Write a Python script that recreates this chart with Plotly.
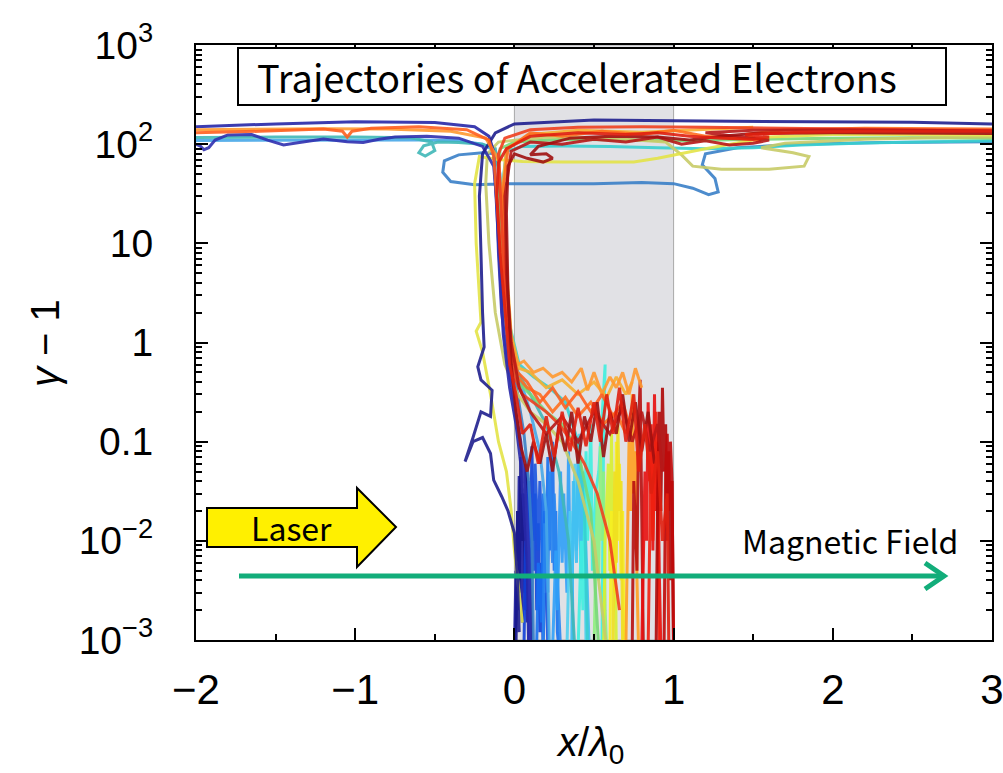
import plotly.graph_objects as go

# ---- axis ticks -------------------------------------------------------------
X_TICKS = [-2, -1, 0, 1, 2, 3]
X_TICK_TEXT = ["−2", "−1", "0", "1", "2", "3"]
X_MINOR = [-1.5, -0.5, 0.5, 1.5, 2.5]
Y_TICKS = [1e-3, 1e-2, 1e-1, 1, 10, 100, 1000]
Y_TICK_TEXT = ["10<sup>−3</sup>", "10<sup>−2</sup>", "0.1", "1", "10",
               "10<sup>2</sup>", "10<sup>3</sup>"]
Y_MINOR = [m * 10.0 ** e for e in range(-3, 3) for m in range(2, 10)]
TARGET_SLAB = [0.0, 1.0]   # target extent in x/lambda0

# ---- electrons that stay trapped inside the target --------------------------
S1_X = [0.00, 0.01, 0.01, 0.02, 0.02, 0.03, 0.03, 0.04, 0.05, 0.05, 0.06, 0.07, 0.07, 0.08, 0.09, 0.10]
S1_Y = [0.0008, 0.005, 0.0012, 0.02, 0.002, 0.045, 0.004, 0.012, 0.0015, 0.03, 0.003, 0.06, 0.005, 0.0015, 0.008, 0.0008]
S1B_X = [0.01, 0.02, 0.03, 0.04, 0.05, 0.06, 0.07, 0.08, 0.09, 0.10, 0.11]
S1B_Y = [0.0008, 0.02, 0.003, 0.07, 0.01, 0.03, 0.002, 0.05, 0.006, 0.015, 0.0008]
S2_X = [0.06, 0.07, 0.08, 0.09, 0.10, 0.11, 0.12, 0.13, 0.14, 0.15, 0.16, 0.17, 0.18, 0.19]
S2_Y = [0.0008, 0.01, 0.002, 0.04, 0.006, 0.09, 0.01, 0.03, 0.002, 0.015, 0.0012, 0.006, 0.0009, 0.003]
S2B_X = [0.09, 0.10, 0.12, 0.13, 0.15, 0.16, 0.18, 0.19, 0.21]
S2B_Y = [0.0008, 0.03, 0.005, 0.06, 0.008, 0.04, 0.003, 0.02, 0.0008]
S3_X = [0.14, 0.15, 0.17, 0.18, 0.20, 0.21, 0.22, 0.24, 0.25, 0.26, 0.27, 0.28]
S3_Y = [0.0009, 0.006, 0.0015, 0.03, 0.004, 0.07, 0.008, 0.1, 0.005, 0.02, 0.0012, 0.0008]
S3B_X = [0.18, 0.19, 0.21, 0.22, 0.24, 0.25, 0.27, 0.29]
S3B_Y = [0.0008, 0.015, 0.003, 0.05, 0.006, 0.03, 0.004, 0.0008]
S4_X = [0.24, 0.26, 0.27, 0.29, 0.30, 0.31, 0.33, 0.34, 0.35, 0.36, 0.37]
S4_Y = [0.0008, 0.008, 0.002, 0.05, 0.006, 0.03, 0.003, 0.08, 0.004, 0.01, 0.0008]
S5_X = [0.33, 0.35, 0.36, 0.38, 0.39, 0.41, 0.42, 0.44, 0.45]
S5_Y = [0.0008, 0.02, 0.003, 0.06, 0.008, 0.12, 0.006, 0.03, 0.0008]
S5B_X = [0.36, 0.37, 0.39, 0.40, 0.42, 0.43, 0.45, 0.47]
S5B_Y = [0.0008, 0.04, 0.006, 0.09, 0.004, 0.05, 0.008, 0.0008]
S6_X = [0.40, 0.42, 0.43, 0.45, 0.46, 0.48, 0.49, 0.51, 0.53, 0.55, 0.57, 0.56, 0.55]
S6_Y = [0.0008, 0.01, 0.002, 0.08, 0.01, 0.15, 0.005, 0.03, 0.05, 0.2, 0.6, 0.1, 0.0008]
S7_X = [0.50, 0.52, 0.53, 0.54, 0.55, 0.56, 0.57, 0.58]
S7_Y = [0.0008, 0.03, 0.004, 0.09, 0.01, 0.05, 0.002, 0.0008]
S8_X = [0.56, 0.57, 0.59, 0.60, 0.61, 0.62, 0.63, 0.64]
S8_Y = [0.0008, 0.01, 0.06, 0.005, 0.12, 0.008, 0.03, 0.0008]
S9_X = [0.60, 0.61, 0.63, 0.64, 0.65, 0.66, 0.67, 0.68, 0.69]
S9_Y = [0.0008, 0.02, 0.003, 0.1, 0.01, 0.06, 0.004, 0.02, 0.0008]
S9B_X = [0.62, 0.63, 0.64, 0.65, 0.66, 0.67, 0.68]
S9B_Y = [0.0008, 0.05, 0.006, 0.15, 0.02, 0.04, 0.0008]
S10_X = [0.70, 0.71, 0.72, 0.73, 0.74, 0.75, 0.76, 0.77, 0.78]
S10_Y = [0.0008, 0.01, 0.1, 0.02, 0.3, 0.03, 0.08, 0.004, 0.0008]
S11_X = [0.74, 0.75, 0.77, 0.78, 0.79, 0.80, 0.81]
S11_Y = [0.0008, 0.04, 0.005, 0.15, 0.42, 0.01, 0.0008]
S12_X = [0.80, 0.82, 0.83, 0.84, 0.85, 0.86, 0.87, 0.88, 0.89, 0.90, 0.91, 0.92]
S12_Y = [0.0008, 0.05, 0.01, 0.25, 0.04, 0.12, 0.008, 0.3, 0.02, 0.1, 0.005, 0.0008]
S12B_X = [0.84, 0.85, 0.86, 0.87, 0.88, 0.89, 0.90, 0.91]
S12B_Y = [0.0008, 0.02, 0.15, 0.01, 0.06, 0.2, 0.03, 0.0008]
S13_X = [0.89, 0.90, 0.91, 0.92, 0.93, 0.94, 0.95, 0.96, 0.97, 0.98, 0.99, 1.00]
S13_Y = [0.0008, 0.03, 0.2, 0.02, 0.35, 0.05, 0.15, 0.01, 0.08, 0.004, 0.04, 0.0008]
S13B_X = [0.94, 0.95, 0.96, 0.97, 0.98, 0.99, 1.00]
S13B_Y = [0.0008, 0.05, 0.12, 0.02, 0.1, 0.04, 0.0008]

# ---- electrons pulled out of the front surface and accelerated --------------
A1_X = [0.03, 0.02, 0.00, -0.04, -0.08, -0.13, -0.15, -0.20, -0.26, -0.31, -0.26, -0.21, -0.15, -0.14, -0.21,
        -0.23, -0.19, -0.20, -0.21, -0.22, -0.20, -0.12, 0.00, 0.50, 1.00, 1.50, 2.00, 2.50, 3.00]
A1_Y = [0.0012, 0.004, 0.012, 0.02, 0.028, 0.041, 0.076, 0.11, 0.10, 0.063, 0.11, 0.2, 0.18, 0.33, 0.42,
        0.57, 0.9, 2.0, 8, 30, 80, 130, 160, 175, 172, 170, 168, 166, 160]
A2_X = [0.09, 0.08, 0.06, 0.04, 0.01, -0.03, -0.07, -0.09, -0.11, -0.12, -0.13, -0.16, -0.25, -0.5, -1.0, -1.5, -2.0]
A2_Y = [0.0008, 0.006, 0.02, 0.06, 0.15, 0.35, 1.2, 5, 20, 50, 85, 120, 150, 165, 168, 160, 150]
A3_X = [0.10, 0.09, 0.07, 0.04, 0.0, -0.04, -0.08, -0.10, -0.11, -0.13, -0.2, -0.35, -0.55, -0.75, -0.85, -0.95,
        -1.05, -1.2, -1.35, -1.45, -1.55, -1.65, -1.8, -1.88, -1.92, -1.95, -1.97, -2.0]
A3_Y = [0.001, 0.008, 0.03, 0.1, 0.25, 0.6, 2, 8, 25, 60, 95, 115, 120, 118, 112, 104,
        106, 113, 104, 98, 110, 125, 124, 110, 92, 88, 95, 100]
A4_X = [0.12, 0.11, 0.09, 0.06, 0.02, -0.03, -0.07, -0.09, -0.10, -0.10, -0.12, -0.2, -0.35, -0.44, -0.45, -0.40,
        -0.25, -0.05, 0.2, 0.5, 0.8, 1.0, 1.12, 1.22, 1.28, 1.26, 1.18, 1.2, 1.4, 1.8, 2.3, 3.0]
A4_Y = [0.0008, 0.01, 0.04, 0.12, 0.3, 0.8, 2.5, 10, 35, 65, 80, 82, 78, 68, 52, 42,
        39, 40, 40, 40, 41, 40, 36, 31, 33, 45, 62, 80, 92, 100, 104, 106]
A5_X = [0.22, 0.2, 0.16, 0.1, 0.04, -0.02, -0.06, -0.08, -0.09, -0.12, -0.2, -0.35, -0.6, -1.0, -1.5, -2.0]
A5_Y = [0.0008, 0.02, 0.08, 0.2, 0.4, 0.9, 3, 15, 50, 85, 100, 108, 110, 110, 110, 109]
A6_X = [0.38, 0.34, 0.28, 0.2, 0.1, 0.02, -0.04, -0.07, -0.09, -0.12, -0.2, -0.35, -0.48, -0.57, -0.6, -0.56,
        -0.5, -0.52, -0.65, -1.0, -1.5, -2.0]
A6_Y = [0.0008, 0.01, 0.05, 0.15, 0.3, 0.5, 1.5, 8, 40, 90, 100, 104, 105, 96, 82, 76,
        86, 105, 116, 118, 118, 117]
A7_X = [0.46, 0.44, 0.4, 0.32, 0.22, 0.12, 0.03, -0.03, -0.06, -0.07, -0.05, 0.05, 0.3, 0.6, 0.9, 1.2, 1.5, 1.8,
        2.2, 2.6, 3.0]
A7_Y = [0.0008, 0.02, 0.1, 0.25, 0.35, 0.45, 0.6, 1.5, 8, 45, 85, 95, 96, 95, 92, 90, 92, 98, 103, 106, 108]
A8_X = [0.05, 0.02, 0.0, -0.02, -0.05, -0.1, -0.15, -0.2, -0.24, -0.21, -0.22, -0.24, -0.25, -0.22, -0.1, 0.05,
        0.3, 0.6, 0.75, 0.9, 1.2, 1.6, 2.0, 2.5, 3.0]
A8_Y = [0.0015, 0.004, 0.008, 0.02, 0.05, 0.1, 0.3, 0.8, 1.3, 1.6, 3, 10, 40, 75, 70, 67,
        66, 66, 66, 72, 90, 118, 125, 125, 124]
A9_X = [0.58, 0.5, 0.4, 0.3, 0.2, 0.1, 0.02, -0.06, -0.12, -0.16, -0.18, -0.17, -0.1, 0.2, 0.6, 0.95, 1.05,
        1.12, 1.3, 1.6, 1.82, 1.85, 1.75, 1.55, 1.7, 2.2, 2.6, 3.0]
A9_Y = [0.0008, 0.01, 0.04, 0.1, 0.15, 0.2, 0.3, 0.6, 2, 10, 40, 80, 105, 118, 115, 105, 78,
        60, 56, 56, 60, 75, 82, 92, 102, 112, 116, 118]
A10_X = [0.8, 0.76, 0.72, 0.68, 0.64, 0.6, 0.55, 0.5, 0.46, 0.42, 0.36, 0.3, 0.24, 0.18, 0.12, 0.06, 0.02, -0.03,
         -0.06, -0.08, -0.1, -0.18, -0.4, -0.8, -1.2, -1.6, -2.0]
A10_Y = [0.35, 0.55, 0.3, 0.5, 0.35, 0.45, 0.3, 0.5, 0.33, 0.55, 0.4, 0.5, 0.45, 0.55, 0.5, 0.65, 0.6, 1.2,
         5, 25, 70, 115, 135, 142, 143, 141, 140]
A11_X = [0.97, 0.96, 0.93, 0.9, 0.86, 0.82, 0.78, 0.75, 0.7, 0.66, 0.62, 0.58, 0.54, 0.5, 0.45, 0.4, 0.35, 0.3,
         0.25, 0.2, 0.15, 0.1, 0.05, 0.01, -0.03, -0.06, -0.09, -0.11, -0.1, -0.05, 0.1, 0.4, 0.7, 0.9, 1.1,
         1.3, 1.5, 1.6, 1.45, 1.8, 2.2, 2.6, 3.0]
A11_Y = [0.0008, 0.03, 0.01, 0.08, 0.03, 0.15, 0.05, 0.3, 0.1, 0.35, 0.12, 0.3, 0.1, 0.25, 0.09, 0.22, 0.08, 0.2,
         0.07, 0.18, 0.06, 0.15, 0.12, 0.3, 0.6, 2, 8, 30, 65, 90, 120, 130, 125, 130, 120,
         115, 112, 118, 125, 132, 135, 135, 135]
A12_X = [0.88, 0.84, 0.8, 0.76, 0.72, 0.68, 0.64, 0.6, 0.56, 0.52, 0.48, 0.44, 0.4, 0.36, 0.32, 0.28, 0.24, 0.2,
         0.16, 0.12, 0.08, 0.04, 0.01, -0.02, -0.04, -0.05, -0.04, 0.0, 0.08, 0.18, 0.24, 0.2, 0.1, 0.15, 0.35,
         0.6, 0.9, 1.1, 1.3, 1.5, 2.0, 2.5, 3.0]
A12_Y = [0.06, 0.2, 0.08, 0.25, 0.1, 0.3, 0.12, 0.2, 0.07, 0.25, 0.1, 0.18, 0.06, 0.2, 0.08, 0.15, 0.05, 0.12,
         0.06, 0.1, 0.05, 0.09, 0.2, 0.6, 3, 20, 60, 80, 72, 66, 72, 80, 78, 95, 115,
         120, 118, 110, 120, 128, 130, 130, 128]
A13_X = [0.72, 0.68, 0.62, 0.55, 0.48, 0.4, 0.32, 0.24, 0.16, 0.08, 0.02, -0.04, -0.08, -0.11, -0.13, -0.16, -0.3,
         -0.6, -0.9, -1.02, -1.05, -1.08, -1.2, -1.6, -2.0]
A13_Y = [0.15, 0.25, 0.18, 0.3, 0.2, 0.32, 0.22, 0.35, 0.25, 0.4, 0.5, 1.2, 6, 30, 75, 110, 140,
         150, 145, 135, 118, 135, 142, 135, 130]
A14_X = [0.66, 0.6, 0.52, 0.44, 0.36, 0.28, 0.2, 0.12, 0.05, 0.0, -0.04, -0.07, -0.09, -0.1, -0.06, 0.1, 0.4,
         0.8, 1.2, 1.6, 2.0, 2.5, 3.0]
A14_Y = [0.002, 0.01, 0.03, 0.06, 0.1, 0.15, 0.2, 0.25, 0.3, 0.45, 1.5, 8, 35, 80, 115, 140, 148,
         150, 148, 145, 142, 140, 138]
A15_X = [0.53, 0.48, 0.4, 0.3, 0.2, 0.1, 0.02, -0.04, -0.08, -0.1, -0.09, 0.0, 0.3, 0.7, 1.1, 1.5, 2.0, 2.5, 3.0]
A15_Y = [0.0008, 0.02, 0.08, 0.15, 0.2, 0.3, 0.4, 1.0, 6, 40, 90, 105, 112, 110, 108, 112, 115, 116, 115]
A16_X = [0.74, 0.7, 0.64, 0.58, 0.5, 0.4, 0.3, 0.2, 0.1, 0.03, -0.02, -0.05, -0.07, -0.05, 0.1, 0.4, 0.8, 1.2, 1.5]
A16_Y = [0.4, 0.3, 0.45, 0.28, 0.4, 0.3, 0.42, 0.35, 0.5, 0.55, 1.2, 6, 40, 90, 125, 138, 132, 140, 148]
A17_X = [0.93, 0.9, 0.85, 0.8, 0.74, 0.68, 0.6, 0.5, 0.4, 0.3, 0.2, 0.1, 0.03, -0.02, -0.05, -0.06, -0.02, 0.1,
         0.3, 0.5, 0.7, 0.9, 1.05, 1.2, 1.35, 1.5, 1.6, 1.4, 1.2, 1.5, 2.0, 2.5, 3.0]
A17_Y = [0.05, 0.15, 0.08, 0.2, 0.1, 0.22, 0.12, 0.2, 0.1, 0.18, 0.12, 0.2, 0.35, 1.0, 5, 30, 85, 105,
         100, 112, 105, 118, 100, 108, 98, 102, 110, 120, 130, 138, 140, 138, 136]
A18_X = [0.7, 0.64, 0.56, 0.48, 0.4, 0.32, 0.24, 0.16, 0.08, 0.02, -0.03, -0.06, -0.07, -0.04, 0.1, 0.3, 0.55,
         0.8, 1.0, 1.2, 1.4, 1.55, 1.45, 1.7, 2.2, 2.7, 3.0]
A18_Y = [0.12, 0.2, 0.15, 0.25, 0.18, 0.28, 0.2, 0.3, 0.35, 0.45, 1.0, 6, 35, 90, 130, 120, 135,
         125, 138, 120, 115, 108, 125, 140, 145, 143, 142]

# (x, y, colour) for each electron, coloured by its starting depth in the target
TRACKS = [
    (S1_X, S1_Y, "#1c1ca0"), (S1B_X, S1B_Y, "#18188c"), (S2_X, S2_Y, "#1040d8"),
    (S2B_X, S2B_Y, "#1a55e0"), (S3_X, S3_Y, "#1870f0"), (S3B_X, S3B_Y, "#2a86f0"),
    (S4_X, S4_Y, "#30a0f8"), (S5_X, S5_Y, "#50d0f0"), (S5B_X, S5B_Y, "#40bff2"),
    (S6_X, S6_Y, "#40f0e0"), (S7_X, S7_Y, "#90f080"), (S8_X, S8_Y, "#d8f030"),
    (S9_X, S9_Y, "#f8f020"), (S9B_X, S9B_Y, "#f0e020"), (S10_X, S10_Y, "#ffa020"),
    (S11_X, S11_Y, "#b81010"), (S12_X, S12_Y, "#e81010"), (S12B_X, S12B_Y, "#f02010"),
    (S13_X, S13_Y, "#b00808"), (S13B_X, S13B_Y, "#c00a0a"),
    (A4_X, A4_Y, "#3a80c8"), (A5_X, A5_Y, "#48a8e8"), (A6_X, A6_Y, "#40b8b8"),
    (A7_X, A7_Y, "#38d0d0"), (A15_X, A15_Y, "#78d878"), (A9_X, A9_Y, "#c8cc68"),
    (A8_X, A8_Y, "#e4e448"), (A2_X, A2_Y, "#2828a8"), (A3_X, A3_Y, "#3030b0"),
    (A1_X, A1_Y, "#20208f"), (A16_X, A16_Y, "#f8b030"), (A10_X, A10_Y, "#ff9a30"),
    (A18_X, A18_Y, "#ff7020"), (A13_X, A13_Y, "#ff6020"), (A14_X, A14_Y, "#f04020"),
    (A17_X, A17_Y, "#b81818"), (A12_X, A12_Y, "#a01010"), (A11_X, A11_Y, "#e02010"),
]

PLOT_L, PLOT_R, PLOT_T, PLOT_B = 196, 992, 45, 640
W, H = 1003, 773


def px(x):
    return (x - PLOT_L) / (PLOT_R - PLOT_L)


def py(y):
    return (PLOT_B - y) / (PLOT_B - PLOT_T)


fig = go.Figure()
for xs, ys, col in TRACKS:
    fig.add_trace(go.Scatter(x=xs, y=ys, mode="lines",
                             line=dict(color=col, width=3), opacity=0.9,
                             hoverinfo="skip", showlegend=False))

# target slab
fig.add_shape(type="rect", xref="x", yref="paper", x0=TARGET_SLAB[0], x1=TARGET_SLAB[1],
              y0=0, y1=1, fillcolor="#e1e1e5", line=dict(color="#a8a8a8", width=1),
              layer="below")


def label(x, y, text, size, family="Noto Sans CJK JP", angle=0):
    fig.add_annotation(xref="paper", yref="paper", x=px(x), y=py(y), text=text,
                       showarrow=False, xanchor="center", yanchor="middle",
                       textangle=angle, font=dict(family=family, size=size, color="black"))


# title box
fig.add_shape(type="rect", xref="paper", yref="paper",
              x0=px(238), x1=px(946), y0=py(105), y1=py(48),
              fillcolor="white", line=dict(color="black", width=2), layer="above")
label(577, 76, "Trajectories of Accelerated Electrons", 38)

# laser arrow
lx0, lx1, lx2 = px(207), px(357), px(396)
ly_bt, ly_bb, ly_ht, ly_hb, ly_tip = py(508), py(547), py(488), py(567), py(527)
fig.add_shape(type="path", xref="paper", yref="paper",
              path=(f"M {lx0},{ly_bt} L {lx1},{ly_bt} L {lx1},{ly_ht} L {lx2},{ly_tip} "
                    f"L {lx1},{ly_hb} L {lx1},{ly_bb} L {lx0},{ly_bb} Z"),
              fillcolor="#fff000", line=dict(color="black", width=2), layer="above")
label(291, 527, "Laser", 32)

# magnetic field arrow
green = "#12ad7a"
fig.add_shape(type="line", xref="paper", yref="paper", x0=px(239), x1=px(943),
              y0=py(576), y1=py(576), line=dict(color=green, width=5), layer="above")
fig.add_shape(type="path", xref="paper", yref="paper",
              path=f"M {px(925)},{py(563)} L {px(944)},{py(576)} L {px(925)},{py(589)}",
              line=dict(color=green, width=5), layer="above")
label(850, 540, "Magnetic Field", 32)

# axis titles
label(45, 343, "<i>γ</i> − 1", 40, family="Liberation Sans", angle=-90)
label(590, 745, "<i>x</i>/<i>λ</i><sub>0</sub>", 40, family="Liberation Sans")

axis_common = dict(showline=True, linecolor="black", linewidth=2, mirror="ticks",
                   ticks="inside", ticklen=12, tickwidth=2, tickcolor="black",
                   showgrid=False, zeroline=False, automargin=False)

fig.update_xaxes(range=[-2, 3], tickvals=X_TICKS, ticktext=X_TICK_TEXT,
                 tickfont=dict(family="Liberation Sans", size=42, color="black"),
                 ticklabelstandoff=12, ticklabeloverflow="allow",
                 minor=dict(tickvals=X_MINOR, ticks="inside", ticklen=6, tickwidth=1.5,
                            tickcolor="black"),
                 **axis_common)
fig.update_yaxes(type="log", range=[-3, 3], tickvals=Y_TICKS, ticktext=Y_TICK_TEXT,
                 tickfont=dict(family="Liberation Sans", size=39, color="black"),
                 ticklabelstandoff=33, ticklabeloverflow="allow",
                 minor=dict(tickvals=Y_MINOR, ticks="inside", ticklen=6, tickwidth=1.5,
                            tickcolor="black"),
                 **axis_common)

fig.update_layout(width=W, height=H, plot_bgcolor="white", paper_bgcolor="white",
                  margin=dict(l=PLOT_L, r=W - PLOT_R, t=PLOT_T, b=H - PLOT_B),
                  showlegend=False)

fig.write_html("out.html")
